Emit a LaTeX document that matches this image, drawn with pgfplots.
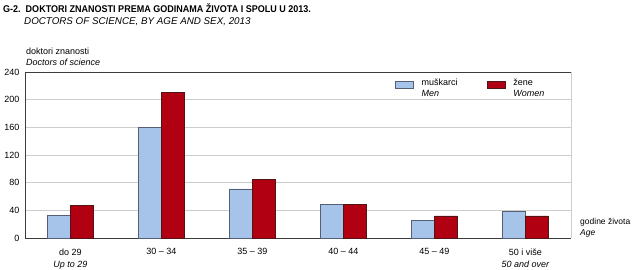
\documentclass[border=0pt]{standalone}
\usepackage{pgfplots}
\pgfplotsset{compat=1.18}
\usepackage{fontspec}
\setmainfont{Liberation Sans}
\newfontfamily\titlefont[FakeStretch=0.92]{Liberation Sans}
\definecolor{menfill}{RGB}{166,196,234}
\definecolor{mendraw}{RGB}{85,95,115}
\definecolor{womfill}{RGB}{176,0,18}
\definecolor{womdraw}{RGB}{80,20,20}
\definecolor{gridc}{RGB}{205,205,205}
\definecolor{axc}{RGB}{60,60,60}
\pgfplotstableread{
x men women
0 33 47
1 160 210
2 71 85
3 49 49
4 26 32
5 38 32
}\datatable
\begin{document}
\begin{tikzpicture}[font=\fontsize{9}{11}\selectfont]
\path[use as bounding box] (-25pt,-32pt) rectangle (607pt,238pt);
\begin{axis}[
  at={(0pt,0pt)}, anchor=south west,
  scale only axis, width=546pt, height=166pt,
  ybar=0pt, bar width=23pt,
  xmin=-0.5, xmax=5.5, ymin=0, ymax=240,
  ytick={0,40,80,120,160,200,240},
  xtick=data,
  xticklabels={{do 29\\\textit{Up to 29}},{30 – 34},{35 – 39},{40 – 44},{45 – 49},{50 i više\\\textit{50 and over}}},
  xticklabel style={align=center, font=\fontsize{9}{12}\selectfont, yshift=-7pt},
  yticklabel style={font=\fontsize{9}{10}\selectfont, xshift=-2pt},
  /pgf/number format/assume math mode=true,
  major tick length=0pt,
  ymajorgrids, grid style={gridc, line width=0.8pt},
  axis lines=left, axis line style={-, axc, line width=0.9pt},
  legend style={at={(rel axis cs:0.672,0.99)}, anchor=north west, draw=none, fill=none,
    /tikz/every even column/.append style={column sep=27pt},
    /tikz/every odd column/.append style={column sep=6pt},
    font=\fontsize{9}{11}\selectfont},
  legend columns=2, legend cell align=left,
  legend image code/.code={\draw[#1] (0pt,-3.5pt) rectangle (18pt,3.5pt);},
  clip=false,
]
\addplot[fill=menfill, draw=mendraw, line width=0.6pt] table[x=x,y=men]{\datatable};
\addplot[fill=womfill, draw=womdraw, line width=0.6pt] table[x=x,y=women]{\datatable};
\legend{{\begin{tabular}{@{}l@{}}muškarci\\\textit{Men}\end{tabular}},{\begin{tabular}{@{}l@{}}žene\\\textit{Women}\end{tabular}}}
\draw[axc, line width=0.9pt] (rel axis cs:0,1) -- (rel axis cs:1,1);
\draw[gridc, line width=0.8pt] (rel axis cs:1,0) -- (rel axis cs:1,1);
\end{axis}
\node[anchor=north west, inner sep=0pt, font=\titlefont\bfseries\fontsize{9.8}{11}\selectfont] at (-22pt,234pt) {G-2.\ \ DOKTORI ZNANOSTI PREMA GODINAMA ŽIVOTA I SPOLU U 2013.};
\node[anchor=north west, inner sep=0pt, font=\itshape\fontsize{9.8}{11}\selectfont] at (-1pt,221pt) {DOCTORS OF SCIENCE, BY AGE AND SEX, 2013};
\node[anchor=south west, inner sep=0pt, align=left] at (1pt,172pt) {doktori znanosti\\\textit{Doctors of science}};
\node[anchor=west, inner sep=0pt, align=left, font=\fontsize{8.5}{11.5}\selectfont] at (555pt,10pt) {godine života\\\textit{Age}};
\end{tikzpicture}
\end{document}
